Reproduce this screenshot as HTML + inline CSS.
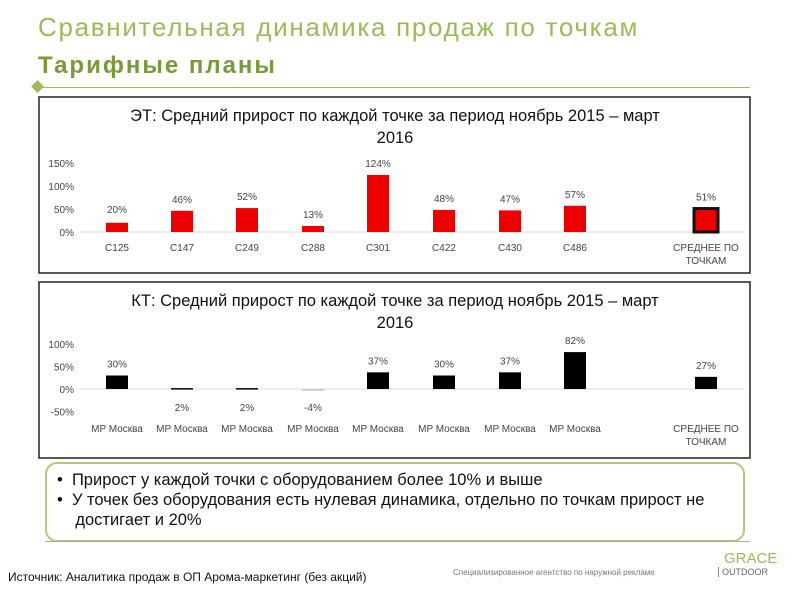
<!DOCTYPE html>
<html><head><meta charset="utf-8">
<style>
body{margin:0;width:794px;height:595px;background:#fff;overflow:hidden;font-family:"Liberation Sans","DejaVu Sans",sans-serif;position:relative}
.abs{position:absolute}
</style></head><body>
<div class="abs" style="left:38px;top:12px;font-size:26px;letter-spacing:1.7px;color:#9bbb59;white-space:nowrap">Сравнительная динамика продаж по точкам</div>
<div class="abs" style="left:38px;top:52px;font-size:24px;letter-spacing:2px;font-weight:bold;color:#7a9a3a;white-space:nowrap">Тарифные планы</div>
<div class="abs" style="left:38px;top:87px;width:712px;height:1px;background:#9bbb59"></div>
<div class="abs" style="left:33px;top:82px;width:9px;height:9px;background:#9bbb59;transform:rotate(45deg)"></div>

<svg class="abs" id="svg" style="left:0;top:0" width="794" height="595" font-family="Liberation Sans, sans-serif"></svg>

<div class="abs" style="left:45px;top:462px;width:700px;height:80px;border:2px solid #b5c77a;border-radius:12px;box-sizing:border-box;font-size:16.5px;color:#111;padding:6px 0 0 10px;line-height:20px;white-space:nowrap">
<div>•&nbsp;&nbsp;Прирост у каждой точки с оборудованием более 10% и выше</div>
<div>•&nbsp;&nbsp;У точек без оборудования есть нулевая динамика, отдельно по точкам прирост не<br>&nbsp;&nbsp;&nbsp;&nbsp;достигает и 20%</div>
</div>
<div class="abs" style="left:45px;top:541px;width:705px;height:1px;background:#aaa"></div>
<div class="abs" style="left:8px;top:570px;font-size:12px;color:#111;white-space:nowrap">Источник: Аналитика продаж в ОП Арома-маркетинг (без акций)</div>
<div class="abs" style="left:453px;top:568px;font-size:8px;color:#777;white-space:nowrap">Специализированное агентство по наружной рекламе</div>
<div class="abs" style="left:724px;top:550px;font-size:15px;color:#9bbb59">GRACE</div>
<div class="abs" style="left:718px;top:567px;font-size:9px;color:#666;border-left:1px solid #888;padding-left:3px">OUTDOOR</div>

<script>
const etCats = ["C125","C147","C249","C288","C301","C422","C430","C486","СРЕДНЕЕ ПО|ТОЧКАМ"];
const etVals = [20,46,52,13,124,48,47,57,51];
const etTicks = [0,50,100,150];
const ktCats = ["MP Москва","MP Москва","MP Москва","MP Москва","MP Москва","MP Москва","MP Москва","MP Москва","СРЕДНЕЕ ПО|ТОЧКАМ"];
const ktVals = [30,2,2,-4,37,30,37,82,27];
const ktTicks = [-50,0,50,100];

const svg = document.getElementById('svg');
const NS = 'http://www.w3.org/2000/svg';
function mk(tag, attrs, txt){const e=document.createElementNS(NS,tag);for(const k in attrs)e.setAttribute(k,attrs[k]);if(txt!==undefined)e.textContent=txt;svg.appendChild(e);return e;}
const xCenters=[117,182,247,313,378,444,510,575,706];
function xPos(i){return xCenters[i];}

function chart(opts){
  const {top,bottom,zero,ppp,cats,vals,ticks,color,title,prefix}=opts;
  const y=v=>zero-v*ppp;
  let r=mk('rect',{x:39,y:top,width:711,height:bottom-top,fill:'#fff',stroke:'#222','stroke-width':1.5});
  
  
  let t=mk('text',{x:395,y:top+24,'text-anchor':'middle','font-size':16.5,fill:'#111'},title[0]);
  
  
  let t2=mk('text',{x:395,y:top+46,'text-anchor':'middle','font-size':16.5,fill:'#111'},title[1]);
  
  
  let ax=mk('line',{x1:80,x2:745,y1:zero,y2:zero,stroke:'#d9d9d9','stroke-width':1});
  
  
  ticks.forEach(v=>{
    let tl=mk('text',{x:74,y:y(v)+4,'text-anchor':'end','font-size':10,fill:'#444'},v+'%');
    
    
  });
  vals.forEach((v,i)=>{
    const cx=xPos(i), w=i===8&&prefix==='et'?24:22;
    const h=Math.max(Math.abs(v*ppp),1.5);
    let b=mk('rect',{x:cx-w/2,y:v>=0?y(v):zero,width:w,height:h,fill:color,
      stroke:(i===8&&prefix==='et')?'#111':'none','stroke-width':(i===8&&prefix==='et')?3:0});
    if(prefix==='kt'&&v<0){b.setAttribute('fill','#ccc');}
    
    
    let ly = v>10 ? y(v)-8 : (prefix==='kt' ? zero+22 : y(v)-8);
    if(prefix==='et'&&i===0) ly=y(v)-10;
    let lb=mk('text',{x:cx,y:ly,'text-anchor':'middle','font-size':10,fill:'#444'},v+'%');
    
    
    const parts=cats[i].split('|');
    parts.forEach((p,k)=>{
      let cl=mk('text',{x:cx,y:opts.catY+k*13,'text-anchor':'middle','font-size':10,fill:'#444'},p);
      
      
    });
  });
}
chart({top:97,bottom:273,zero:232,ppp:0.46,cats:etCats,vals:etVals,ticks:etTicks,color:'#ee0000',prefix:'et',catY:251,
  title:['ЭТ: Средний прирост по каждой точке за период ноябрь 2015 – март','2016']});
chart({top:282,bottom:458,zero:389,ppp:0.45,cats:ktCats,vals:ktVals,ticks:ktTicks,color:'#000',prefix:'kt',catY:432,
  title:['КТ: Средний прирост по каждой точке за период ноябрь 2015 – март','2016']});
</script>
</body></html>
